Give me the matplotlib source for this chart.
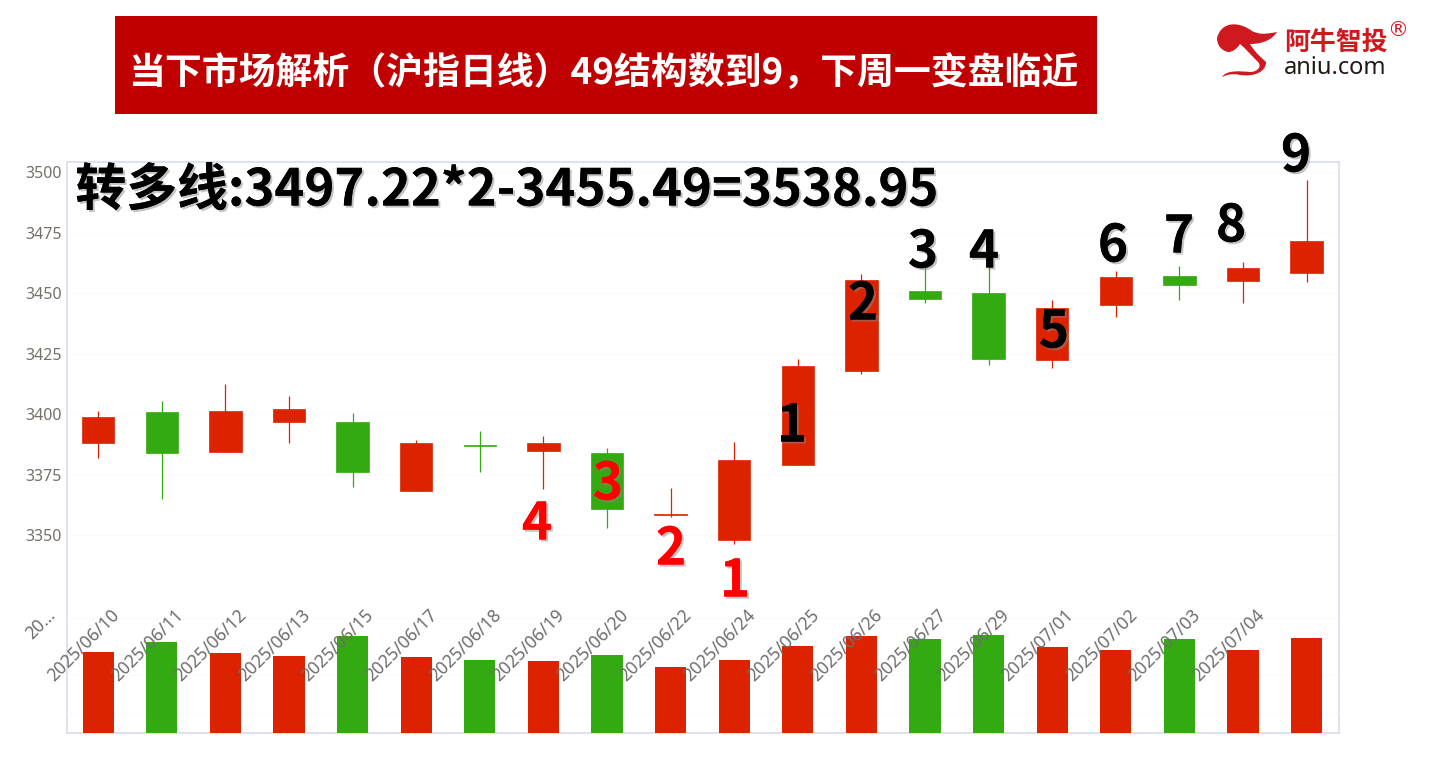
import matplotlib
matplotlib.use("Agg")
import matplotlib.pyplot as plt
import matplotlib.patheffects as pe
from matplotlib.patches import Rectangle, PathPatch
from matplotlib.path import Path

W, H = 1434, 758
CJK = ['Noto Sans CJK SC', 'DejaVu Sans']

dates = ["2025/06/10", "2025/06/11", "2025/06/12", "2025/06/13", "2025/06/15",
         "2025/06/17", "2025/06/18", "2025/06/19", "2025/06/20", "2025/06/22",
         "2025/06/24", "2025/06/25", "2025/06/26", "2025/06/27", "2025/06/29",
         "2025/07/01", "2025/07/02", "2025/07/03", "2025/07/04"]
tick_labels = ["20..."] + dates

body_top = [3399, 3401, 3401.5, 3402, 3397, 3388, 3387.2, 3388, 3384, 3358.8,
            3381, 3420, 3455.5, 3451, 3450, 3444, 3456.5, 3457, 3460.5, 3471.5]
body_bot = [3388, 3384, 3384.5, 3397, 3376, 3368.5, 3387, 3385, 3361, 3358.4,
            3348, 3379, 3418, 3447.5, 3423, 3422.5, 3445, 3453.5, 3455, 3458.5]
high = [3401.5, 3405.5, 3412.5, 3407.5, 3400.5, 3389.5, 3393, 3391, 3386, 3369.5,
        3388.5, 3423, 3458, 3463, 3463, 3447, 3459, 3461, 3463, 3496.7]
low = [3382, 3365, 3384.5, 3388, 3370, 3368.5, 3376, 3369, 3353, 3357.5,
       3346.5, 3379, 3416.5, 3446, 3420.5, 3419, 3440, 3447, 3446, 3454.5]
is_up = [1, 0, 1, 1, 0, 1, 0, 1, 0, 1, 1, 1, 1, 0, 0, 1, 1, 0, 1, 1]
volume = [81, 91, 80, 77, 97, 76, 73.5, 72, 78, 66,
          73, 87.5, 97, 94, 98.5, 86.5, 83.5, 94, 83, 95]

red_digits = ["4", "3", "2", "1"]
black_digits = ["1", "2", "3", "4", "5", "6", "7", "8", "9"]

RED, GREEN = "#DD2200", "#33AA11"
colors = [RED if u else GREEN for u in is_up]
xs = list(range(len(volume)))

fig = plt.figure(figsize=(W / 100, H / 100), dpi=100, facecolor="white")


def frect(x0, y0, x1, y1):
    return [x0 / W, 1 - y1 / H, (x1 - x0) / W, (y1 - y0) / H]


def ftext(x, y, s, **kw):
    return fig.text(x / W, 1 - y / H, s, **kw)


# main chart
ax = fig.add_axes(frect(67, 162, 1339, 733))
ax.set_xlim(-0.49, 19.51)
ax.set_ylim(3268.5, 3504.1)
ax.set_yticks([3350, 3375, 3400, 3425, 3450, 3475, 3500])
ax.tick_params(axis="y", length=0, pad=4, labelsize=11.5, labelcolor="#77706a")
for lab in ax.get_yticklabels():
    lab.set_fontfamily("Noto Sans")
ax.set_xticks([])
for s in ax.spines.values():
    s.set_color("#D5DDF0")
    s.set_linewidth(1.2)
ax.grid(axis="y", color="#FAFAFA", lw=0.9)
ax.set_axisbelow(True)
ax.vlines(xs, low, high, colors=colors, lw=0.9, zorder=2)
ax.bar(xs, [t - b for t, b in zip(body_top, body_bot)], bottom=body_bot, width=0.51,
       color=colors, edgecolor=colors, linewidth=0.5, zorder=3)

# volume pane
vax = fig.add_axes(frect(67, 618, 1339, 733), sharex=ax)
vax.patch.set_alpha(0)
vax.set_ylim(0, 115)
vax.set_yticks([20, 58, 115])
vax.set_yticklabels([])
vax.set_xticks([])
vax.tick_params(length=0)
vax.grid(axis="y", color="#FAFAFA", lw=0.9)
vax.set_axisbelow(True)
for s in vax.spines.values():
    s.set_visible(False)
vax.bar(xs, volume, width=0.49, color=colors, zorder=3)

# rotated date labels, shifted one slot to the left as in the source
for i, lab in enumerate(tick_labels):
    vax.annotate(lab, xy=(i - 1, 0), xycoords=("data", "axes fraction"),
                 xytext=(12, 127), textcoords="offset pixels", rotation=45,
                 ha="right", va="top", rotation_mode="anchor", fontsize=12.6,
                 color="#6e6e6e", family="Noto Sans", annotation_clip=False, zorder=6)

# overlay
shadow = [pe.withSimplePatchShadow(offset=(1.5, -1.5), shadow_rgbFace="#888888", alpha=0.5), pe.Normal()]
fig.patches.append(Rectangle((115 / W, 1 - 114 / H), 982 / W, 98 / H, transform=fig.transFigure,
                             facecolor="#C00000", edgecolor="none"))
ftext(603.5, 73, "当下市场解析（沪指日线）49结构数到9，下周一变盘临近", color="white", fontsize=26.6,
      fontweight="heavy", family=CJK, ha="center", va="center", zorder=10)
ftext(507, 191, "转多线:3497.22*2-3455.49=3538.95", color="black", fontsize=36.6, fontweight="heavy",
      family=CJK, ha="center", va="center", path_effects=shadow, zorder=10)

red_x = [537, 608, 671, 735]
red_y = [521, 481, 546, 578]
black_x = [792, 863, 923, 984, 1054, 1113, 1179, 1231, 1296]
black_y = [423, 301, 249, 249, 329, 243, 234, 223, 153]
for d, x, y in zip(red_digits, red_x, red_y):
    ftext(x, y + 3, d, color="#FF0000", fontsize=37, fontweight="bold", family=CJK,
          ha="center", va="center", path_effects=shadow, zorder=10)
for d, x, y in zip(black_digits, black_x, black_y):
    ftext(x, y + 3, d, color="black", fontsize=37, fontweight="bold", family=CJK,
          ha="center", va="center", path_effects=shadow, zorder=10)


# logo
def p(x, y):
    return (x / W, 1 - y / H)


verts = [p(1217, 38), p(1222, 20), p(1240, 22), p(1252, 31), p(1262, 36), p(1270, 33), p(1277, 32),
         p(1272, 40), p(1262, 44), p(1250, 44),
         p(1256, 54), p(1262, 58), p(1266, 62),
         p(1266, 72), p(1254, 77), p(1240, 75),
         p(1232, 73), p(1226, 75), p(1222, 77),
         p(1226, 70), p(1240, 71), p(1250, 72),
         p(1258, 72), p(1262, 66), p(1258, 62),
         p(1252, 56), p(1245, 48), p(1240, 44),
         p(1236, 50), p(1232, 52), p(1228, 52),
         p(1220, 50), p(1217, 44), p(1217, 38), p(1217, 38)]
codes = [Path.MOVETO] + [Path.CURVE4] * 33 + [Path.CLOSEPOLY]
fig.patches.append(PathPatch(Path(verts, codes), transform=fig.transFigure,
                             facecolor="#D0191E", edgecolor="none"))
ftext(1335.5, 42, "阿牛智投", color="#D0191E", fontsize=18.6, fontweight="bold", family=CJK,
      ha="center", va="center")
ftext(1335.5, 68, "aniu.com", color="#231815", fontsize=17, family="Noto Sans", ha="center", va="center")
ftext(1398, 30, "®", color="#D0191E", fontsize=15, family="DejaVu Sans", ha="center", va="center")

fig.savefig("out.png", dpi=100, facecolor="white")
